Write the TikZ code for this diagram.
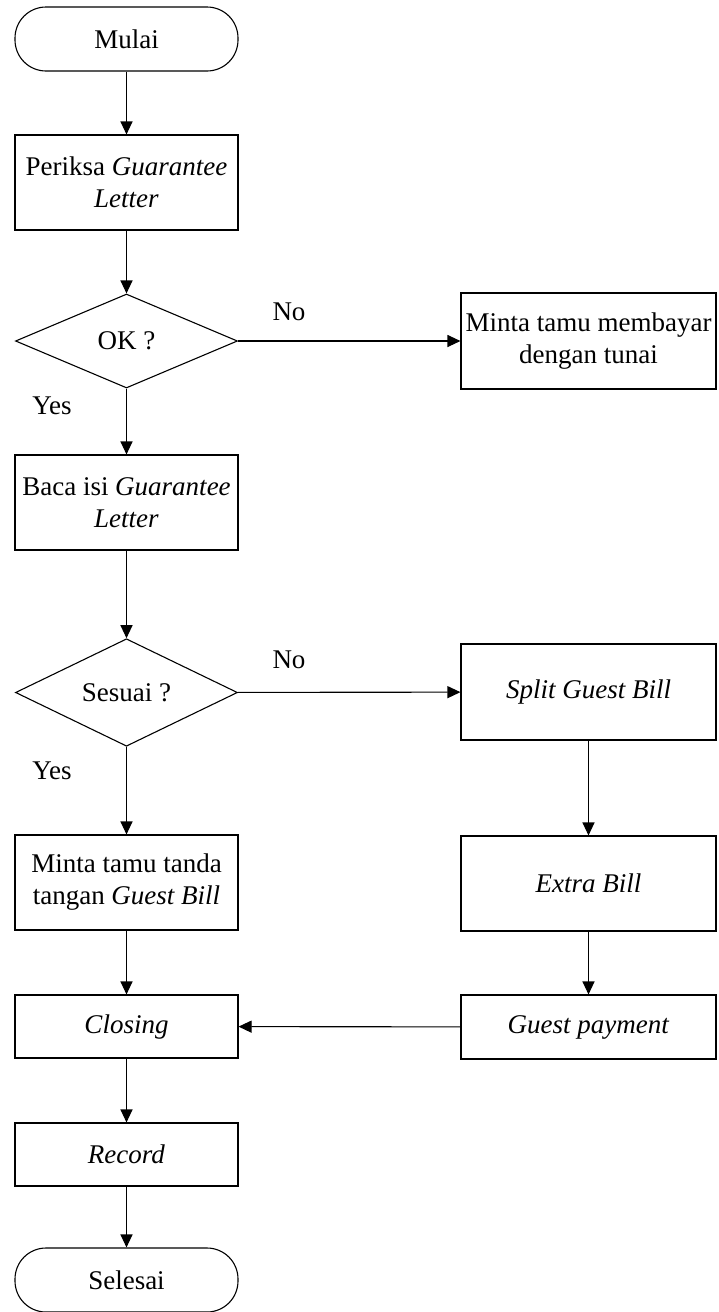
\documentclass[tikz,border=0pt]{standalone}
\usepackage{fontspec}
\setmainfont{Liberation Serif}
\usetikzlibrary{shapes.geometric,arrows.meta}
\begin{document}
\begin{tikzpicture}[x=1pt,y=-1pt,
  every node/.style={font=\fontsize{27}{32}\selectfont, inner sep=0pt},
  box/.style={draw, line width=1.1pt, minimum width=223pt, align=center},
  rbox/.style={draw, line width=1.1pt, minimum width=255pt, align=center},
  term/.style={draw, line width=1.1pt, rounded corners=31pt, minimum width=223pt, minimum height=64pt},
  dec/.style={draw, line width=1.1pt, diamond, minimum width=222pt, minimum height=94pt},
  arr/.style={line width=1.1pt, -{Triangle[length=13pt,width=12pt]}}
]
\useasboundingbox (0,0) rectangle (718,1312);
\node[term] (start) at (126.5,39) {Mulai};
\node[box, minimum height=95pt] (p1) at (126.5,182.5) {Periksa \textit{Guarantee}\\ \textit{Letter}};
\node[dec] (d1) at (126.5,341) {OK ?};
\node[rbox, minimum height=96pt] (cash) at (588.5,341) {Minta tamu membayar\\ dengan tunai};
\node[box, minimum height=95pt] (p2) at (126.5,502.5) {Baca isi \textit{Guarantee}\\ \textit{Letter}};
\node[dec] (d2) at (126.5,692.5) {Sesuai ?};
\node[rbox, minimum height=96pt] (split) at (588.5,692) {\textit{Split Guest Bill}};
\node[box, minimum height=95pt] (sign) at (126.5,882.5) {Minta tamu tanda\\ tangan \textit{Guest Bill}};
\node[rbox, minimum height=95pt] (extra) at (588.5,883.5) {\textit{Extra Bill}};
\node[box, minimum height=63pt] (close) at (126.5,1026.5) {\textit{Closing}};
\node[rbox, minimum height=64pt] (pay) at (588.5,1027) {\textit{Guest payment}};
\node[box, minimum height=63pt] (rec) at (126.5,1154.5) {\textit{Record}};
\node[term] (end) at (126.5,1280) {Selesai};

\node (no1) at (289,312) {No};
\node (yes1) at (52,406) {Yes};
\node (no2) at (289,660) {No};
\node (yes2) at (52,771) {Yes};

\draw[arr] (start) -- (p1);
\draw[arr] (p1) -- (d1);
\draw[arr] (d1) -- (cash);
\draw[arr] (d1) -- (p2);
\draw[arr] (p2) -- (d2);
\draw[arr] (d2) -- (split);
\draw[arr] (d2) -- (sign);
\draw[arr] (split) -- (extra);
\draw[arr] (extra) -- (pay);
\draw[arr] (sign) -- (close);
\draw[arr] (pay) -- (close);
\draw[arr] (close) -- (rec);
\draw[arr] (rec) -- (end);
\end{tikzpicture}
\end{document}
